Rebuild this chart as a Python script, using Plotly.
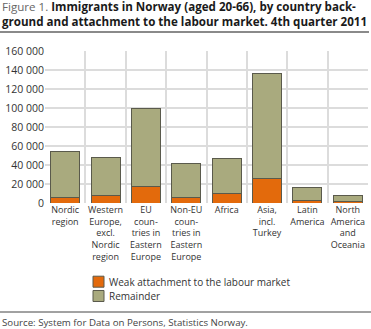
import plotly.graph_objects as go

# Country background groups (tick labels, broken over lines)
categories = [
    "Nordic<br>region",
    "Western<br>Europe,<br>excl.<br>Nordic<br>region",
    "EU<br>coun-<br>tries in<br>Eastern<br>Europe",
    "Non-EU<br>coun-<br>tries in<br>Eastern<br>Europe",
    "Africa",
    "Asia,<br>incl.<br>Turkey",
    "Latin<br>America",
    "North<br>America<br>and<br>Oceania",
]

# Persons aged 20-66, 4th quarter 2011
weak_attachment = [5300, 7700, 17200, 5300, 10500, 25300, 2800, 2100]
remainder = [49400, 40400, 82100, 36800, 36500, 111500, 13000, 6300]

series_names = ["Weak attachment to the labour market", "Remainder"]
series_colors = ["#e36a0c", "#a9aa7e"]

W, H = 371, 329
ML, MR, MT, MB = 45, 3, 51, 126
PW, PH = W - ML - MR, H - MT - MB

def px_x(x):
    return (x - ML) / PW

def px_y(y):
    return (H - MB - y) / PH

FONT = "Open Sans"

fig = go.Figure()
for name, vals, col in zip(series_names, [weak_attachment, remainder], series_colors):
    fig.add_trace(go.Bar(
        x=categories, y=vals, name=name,
        marker=dict(color=col, line=dict(color="#5a5a4c", width=1)),
        showlegend=False,
    ))

fig.update_layout(
    width=W, height=H,
    margin=dict(l=ML, r=MR, t=MT, b=MB),
    barmode="stack", bargap=0.28,
    paper_bgcolor="white", plot_bgcolor="white",
    separators=". ",
    font=dict(family=FONT, size=10, color="#333333"),
    xaxis=dict(
        type="category", tickson="boundaries", showgrid=True,
        gridcolor="#dcdcdc", gridwidth=1.5, ticks="", showline=False,
        tickfont=dict(size=9, color="#333333"), tickangle=0,
    ),
    yaxis=dict(
        range=[0, 160000], dtick=20000, tickformat=",d",
        showgrid=True, gridcolor="#dcdcdc", gridwidth=1.5,
        zeroline=False, showline=False, ticks="",
        tickfont=dict(size=10.5, color="#333333"),
    ),
)

# Title (two lines)
fig.add_annotation(
    x=px_x(0), y=px_y(13.5), xref="paper", yref="paper",
    xanchor="left", yanchor="middle", showarrow=False, align="left",
    text=("<span style='color:#666666'>Figure 1. </span>"
          "<b>Immigrants in Norway (aged 20-66), by country back-</b><br>"
          "<b>ground and attachment to the labour market. 4th quarter 2011</b>"),
    font=dict(family=FONT, size=11.6, color="#1a1a1a"),
)

# Rules under the title and above the source
fig.add_shape(type="line", xref="paper", yref="paper",
              x0=px_x(0), x1=px_x(369), y0=px_y(32), y1=px_y(32),
              line=dict(color="#8a8a8a", width=2))
fig.add_shape(type="line", xref="paper", yref="paper",
              x0=px_x(0), x1=px_x(371), y0=px_y(312), y1=px_y(312),
              line=dict(color="#444444", width=1))

# Legend
for i, (name, col) in enumerate(zip(series_names, series_colors)):
    cy = 281.7 + i * 14.3
    fig.add_shape(type="rect", xref="paper", yref="paper",
                  x0=px_x(93), x1=px_x(104), y0=px_y(cy - 5.5), y1=px_y(cy + 5.5),
                  fillcolor=col, line=dict(color="#5a5a4c", width=1))
    fig.add_annotation(
        x=px_x(107), y=px_y(cy), xref="paper", yref="paper",
        xanchor="left", yanchor="middle", showarrow=False,
        text=name, font=dict(family=FONT, size=10, color="#333333"),
    )

# Source
fig.add_annotation(
    x=px_x(0), y=px_y(322), xref="paper", yref="paper",
    xanchor="left", yanchor="middle", showarrow=False,
    text="Source: System for Data on Persons, Statistics Norway.",
    font=dict(family=FONT, size=9.7, color="#444444"),
)

fig.write_html("out.html")
